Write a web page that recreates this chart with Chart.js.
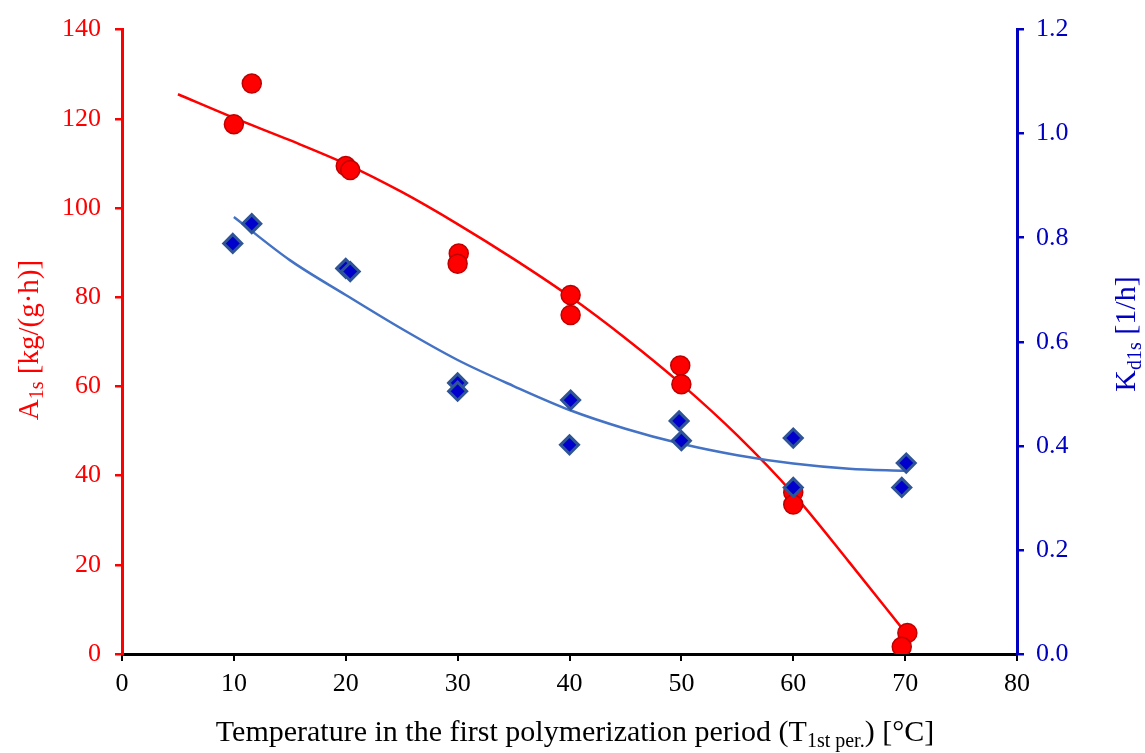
<!DOCTYPE html>
<html>
<head>
<meta charset="utf-8">
<script src="https://cdn.jsdelivr.net/npm/chart.js@4/dist/chart.umd.min.js"></script>
<style>
  html, body { margin: 0; padding: 0; background: #fff; }
  #wrap { width: 1145px; height: 753px; position: relative; }
</style>
</head>
<body>
<div id="wrap"><canvas id="chart"></canvas></div>
<script>
// Activity A1s (left axis) and deactivation constant Kd1s (right axis) vs. first-period temperature.
const tempA = [10.0, 11.6, 20.0, 20.4, 30.1, 30.0, 40.1, 40.1, 49.9, 50.0, 60.0, 60.0, 70.2, 69.7];
const actA  = [118.8, 127.9, 109.4, 108.5, 89.8, 87.5, 80.5, 76.0, 64.7, 60.5, 36.2, 33.5, 4.7, 1.6];

const tempK = [9.9, 11.6, 20.0, 20.4, 30.0, 30.0, 40.1, 40.0, 49.8, 50.0, 60.0, 60.0, 70.1, 69.7];
const kd    = [0.789, 0.827, 0.741, 0.735, 0.521, 0.505, 0.488, 0.402, 0.448, 0.410, 0.415, 0.320, 0.367, 0.320];

// trend lines
const fitAx = [5, 10, 15, 20, 25, 30, 35, 40, 45, 50, 55, 60, 65, 70];
const fitAy = [125.5, 120.2, 115.2, 109.9, 103.6, 96.4, 88.6, 80.2, 70.8, 60.5, 49.0, 35.9, 20.6, 4.9];
const fitKx = [10, 15, 20, 25, 30, 35, 40, 45, 50, 55, 60, 65, 70];
const fitKy = [0.840, 0.757, 0.690, 0.625, 0.565, 0.515, 0.469, 0.433, 0.404, 0.382, 0.366, 0.356, 0.352];

const xTicks = [0, 10, 20, 30, 40, 50, 60, 70, 80];

const RED = '#ff0000';
const BLUE = '#0000c0';
const SERIF = '"Liberation Serif", "Times New Roman", serif';

const pts = (xs, ys) => xs.map((x, i) => ({ x, y: ys[i] }));

// draws a run of [text, isSubscript] pieces, centred on (0,0) of the current transform
function drawRich(ctx, parts, size) {
    const subSize = Math.round(size * 0.68);
    const widths = parts.map(([t, sub]) => {
        ctx.font = `${sub ? subSize : size}px ${SERIF}`;
        return ctx.measureText(t).width;
    });
    const total = widths.reduce((a, b) => a + b, 0);
    let x = -total / 2;
    ctx.textBaseline = 'middle';
    ctx.textAlign = 'left';
    parts.forEach(([t, sub], i) => {
        ctx.font = `${sub ? subSize : size}px ${SERIF}`;
        ctx.fillText(t, x, sub ? size * 0.28 : 0);
        x += widths[i];
    });
}

const axisTitles = {
    id: 'axisTitles',
    afterDraw(chart) {
        const ctx = chart.ctx;
        ctx.save();
        ctx.fillStyle = '#000';
        ctx.translate(575, 733);
        drawRich(ctx, [['Temperature in the first polymerization period (T', false], ['1st per.', true], [') [°C]', false]], 30);
        ctx.restore();

        ctx.save();
        ctx.fillStyle = RED;
        ctx.translate(30, 340);
        ctx.rotate(-Math.PI / 2);
        drawRich(ctx, [['A', false], ['1s', true], [' [kg/(g·h)]', false]], 29);
        ctx.restore();

        ctx.save();
        ctx.fillStyle = BLUE;
        ctx.translate(1127, 334);
        ctx.rotate(-Math.PI / 2);
        drawRich(ctx, [['K', false], ['d1s', true], [' [1/h]', false]], 30);
        ctx.restore();
    }
};

new Chart(document.getElementById('chart'), {
    type: 'scatter',
    data: {
        datasets: [
            {
                label: 'Kd1s',
                data: pts(tempK, kd),
                yAxisID: 'y2',
                pointStyle: 'rectRot',
                pointRadius: 9,
                backgroundColor: '#0000cc',
                borderColor: '#2f5597',
                borderWidth: 3,
                order: 0,
            },
            {
                label: 'A1s',
                data: pts(tempA, actA),
                yAxisID: 'y',
                pointRadius: 9.5,
                backgroundColor: RED,
                borderColor: '#c00000',
                borderWidth: 1.5,
                order: 1,
            },
            {
                label: 'Kd1s fit',
                data: pts(fitKx, fitKy),
                yAxisID: 'y2',
                showLine: true,
                pointRadius: 0,
                borderColor: '#4472c4',
                borderWidth: 2.5,
                cubicInterpolationMode: 'monotone',
                order: 2,
            },
            {
                label: 'A1s fit',
                data: pts(fitAx, fitAy),
                yAxisID: 'y',
                showLine: true,
                pointRadius: 0,
                borderColor: RED,
                borderWidth: 2.5,
                cubicInterpolationMode: 'monotone',
                order: 3,
            },
        ],
    },
    options: {
        responsive: true,
        maintainAspectRatio: false,
        animation: false,
        layout: { padding: { top: 27, left: 0, right: 0, bottom: 0 } },
        plugins: { legend: { display: false }, tooltip: { enabled: false } },
        scales: {
            x: {
                type: 'linear',
                min: 0,
                max: 80,
                afterBuildTicks: s => { s.ticks = xTicks.map(v => ({ value: v })); },
                afterFit: s => { s.height = 99; },
                ticks: { color: '#000', font: { family: SERIF, size: 26 }, padding: 8, maxRotation: 0 },
                grid: { drawOnChartArea: false, color: '#000', lineWidth: 2, tickLength: 7 },
                border: { color: '#000', width: 3 },
            },
            y: {
                position: 'left',
                min: 0,
                max: 140,
                ticks: { stepSize: 20, color: RED, font: { family: SERIF, size: 26 }, padding: 14 },
                afterFit: s => { s.width = 122; },
                grid: { drawOnChartArea: false, color: RED, lineWidth: 2.5, tickLength: 7 },
                border: { color: RED, width: 3 },
            },
            y2: {
                position: 'right',
                min: 0,
                max: 1.2,
                ticks: { stepSize: 0.2, color: BLUE, font: { family: SERIF, size: 26 }, padding: 12, callback: v => v.toFixed(1) },
                afterFit: s => { s.width = 128; },
                grid: { drawOnChartArea: false, color: BLUE, lineWidth: 2.5, tickLength: 7 },
                border: { color: BLUE, width: 3 },
            },
        },
    },
    plugins: [axisTitles],
});
</script>
</body>
</html>
